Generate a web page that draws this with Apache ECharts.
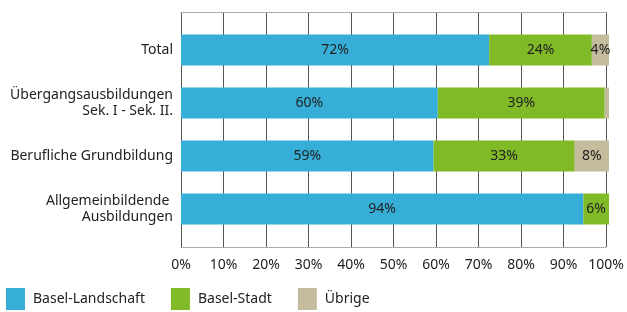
<!DOCTYPE html>
<html>
<head>
    <meta charset="UTF-8">
    <title>Ausbildungen nach Wohnkanton</title>
    <script type="text/javascript" src="https://cdn.jsdelivr.net/npm/echarts@6/dist/echarts.min.js"></script>
</head>
<body style="margin:0">
<div id="main" style="width: 627px;height:312px;"></div>
<script type="text/javascript">
    var categories = ['Total', 'Übergangsausbildungen\nSek. I - Sek. II.', 'Berufliche Grundbildung', 'Allgemeinbildende \nAusbildungen'];
    var baselLandschaft = [72, 60, 59, 94];
    var baselStadt = [24, 39, 33, 6];
    var uebrige = [4, 1, 8, 0];
    var xTicks = [0, 10, 20, 30, 40, 50, 60, 70, 80, 90, 100];

    var font = 'Noto Sans';
    var myChart = echarts.init(document.getElementById('main'));

    // Beschriftung in den Balken, sehr kleine Anteile ohne Label
    var barLabel = {
        show: true,
        position: 'inside',
        color: '#222',
        fontFamily: font,
        fontSize: 14,
        formatter: function (p) { return p.value >= 3 ? p.value + '%' : ''; }
    };

    function serie(name, data, color) {
        return {
            name: name,
            type: 'bar',
            stack: 'total',
            xAxisIndex: 0,
            yAxisIndex: 0,
            barWidth: 31,
            itemStyle: { color: color },
            label: barLabel,
            data: data
        };
    }

    myChart.setOption({
        animation: false,
        textStyle: { fontFamily: font },
        legend: {
            left: 6,
            top: 288,
            padding: 0,
            icon: 'rect',
            itemWidth: 19,
            itemHeight: 22,
            itemGap: 26,
            textStyle: { fontFamily: font, fontSize: 14, color: '#222', padding: [0, 0, 0, 3] },
            data: ['Basel-Landschaft', 'Basel-Stadt', 'Übrige']
        },
        grid: [
            // Balken
            { left: 181, right: 18, top: 23.5, bottom: 76.5 },
            // Raster und Achsenbeschriftung
            { left: 181, right: 18, top: 12.5, bottom: 65 }
        ],
        xAxis: [
            {
                gridIndex: 0, type: 'value', min: 0, max: 100, interval: 10,
                show: false
            },
            {
                gridIndex: 1, type: 'value', min: 0, max: 100, interval: 10,
                axisLine: { show: true, lineStyle: { color: '#999', type: 'dotted' } },
                axisTick: { show: false },
                axisLabel: {
                    margin: 11, fontFamily: font, fontSize: 14, color: '#222',
                    formatter: function (v) { return xTicks.indexOf(v) >= 0 ? v + '%' : ''; }
                },
                splitLine: { show: true, lineStyle: { color: '#555', width: 1 } }
            },
            {
                gridIndex: 1, type: 'value', min: 0, max: 100, interval: 10,
                position: 'top',
                axisLine: { show: true, lineStyle: { color: '#999', type: 'dotted' } },
                axisTick: { show: false },
                axisLabel: { show: false },
                splitLine: { show: false }
            }
        ],
        yAxis: [
            {
                gridIndex: 0, type: 'category', inverse: true,
                data: categories,
                axisLine: { show: false },
                axisTick: { show: false },
                axisLabel: { margin: 8, fontFamily: font, fontSize: 14, color: '#222', lineHeight: 16, align: 'right' }
            },
            {
                gridIndex: 1, type: 'category', data: categories,
                show: false
            }
        ],
        series: [
            serie('Basel-Landschaft', baselLandschaft, '#36AED8'),
            serie('Basel-Stadt', baselStadt, '#81BA27'),
            serie('Übrige', uebrige, '#C5BC9E')
        ]
    });
</script>
</body>
</html>
